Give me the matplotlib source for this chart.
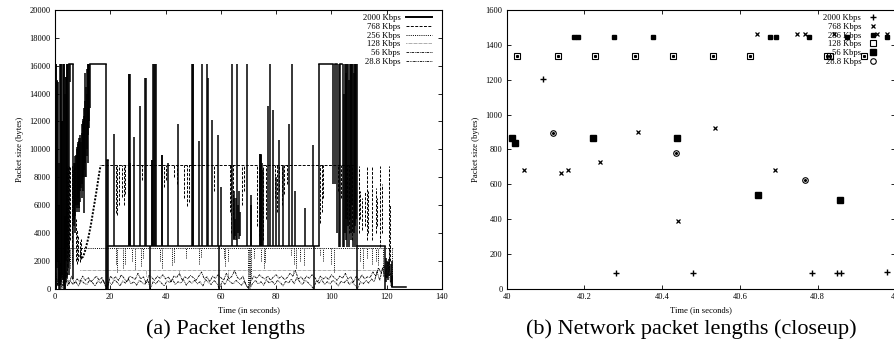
import matplotlib
matplotlib.use("Agg")
import matplotlib.pyplot as plt
from matplotlib.lines import Line2D

plt.rcParams['font.family'] = ['Liberation Serif', 'DejaVu Serif']

# ---------------- panel (a) data ----------------
labels = ["2000 Kbps", "768 Kbps", "256 Kbps", "128 Kbps", "56 Kbps", "28.8 Kbps"]

# flat runs: (start, end, level)
flats_2000 = [(5.0, 6.6, 16100), (12.6, 18.5, 16100), (18.7, 19.2, 9200), (19.3, 95.6, 3050),
              (95.6, 100.7, 16100), (101.4, 102.0, 16100), (103.2, 104.0, 16100),
              (109.4, 119.5, 3050), (122.0, 127.0, 100)]
# vertical excursions: (time, low, high)
strokes_2000 = [
    (0.3, 0, 16100), (0.5, 0, 16100), (0.7, 2000, 15000), (0.9, 1500, 14900), (1.1, 500, 14800),
    (1.3, 200, 9000), (1.5, 0, 6000), (1.7, 0, 1200), (1.9, 300, 16100), (2.1, 500, 16100),
    (2.3, 300, 16100), (2.5, 800, 12000), (2.7, 1000, 12000), (2.9, 600, 16100), (3.1, 200, 16100),
    (3.3, 0, 16100), (3.5, 0, 5200), (3.7, 0, 14000), (3.9, 500, 15200), (4.1, 2000, 15200),
    (4.3, 800, 16100), (4.5, 3000, 16100), (4.7, 1500, 16100), (5.0, 1000, 16100), (5.5, 14800, 16100),
    (6.6, 700, 16100), (6.8, 5000, 8500), (7.0, 4500, 9000), (7.2, 4000, 9000), (7.4, 5200, 9500),
    (7.6, 6000, 9600), (7.8, 5800, 10000), (8.0, 5500, 10200), (8.2, 6000, 10400), (8.4, 6500, 10500),
    (8.6, 5800, 10600), (8.8, 5500, 10800), (9.0, 6200, 11000), (9.2, 7000, 10800), (9.4, 7200, 10500),
    (9.6, 7500, 11200), (9.8, 6500, 11800), (10.0, 8000, 12000), (10.2, 7000, 12200), (10.4, 5400, 12400),
    (10.6, 8500, 13000), (10.8, 9000, 13500), (11.0, 8000, 15500), (11.2, 8000, 14500), (11.4, 9500, 14000),
    (11.6, 10000, 15800), (11.8, 9000, 16100), (12.0, 11000, 16100), (12.2, 11500, 16100), (12.4, 12000, 16100),
    (12.6, 13000, 16100), (18.5, 0, 16100), (18.7, 0, 9200), (19.2, 3050, 9200), (19.3, 0, 3050),
    (21.4, 3050, 11100), (26.7, 3050, 15400), (26.9, 3050, 15400), (27.1, 3050, 15400), (27.3, 3050, 9000),
    (28.7, 3050, 10900), (30.8, 3050, 13100), (32.6, 3050, 15100), (32.8, 3050, 15100), (34.2, 0, 3050),
    (35.0, 3050, 9200), (35.2, 3050, 9200), (35.6, 3050, 16100), (35.8, 3050, 16100), (36.2, 3050, 16100),
    (36.4, 3050, 16100), (38.6, 3050, 9600), (38.8, 3050, 9600), (40.8, 3050, 9000), (44.4, 3050, 11800),
    (49.6, 3050, 16100), (49.8, 3050, 16100), (50.1, 3050, 16100), (52.1, 3050, 10600), (53.1, 3050, 16100),
    (54.9, 3050, 16100), (55.5, 3050, 15100), (56.7, 3050, 12100), (59.1, 3050, 11000), (59.5, 0, 3050),
    (60.0, 3050, 7300), (64.2, 3050, 16100), (64.6, 3500, 7000), (64.9, 3600, 6500), (65.2, 3800, 5000),
    (65.5, 3500, 6500), (65.8, 3050, 16100), (66.2, 4000, 6000), (66.5, 3600, 7000), (66.9, 3800, 5500),
    (69.4, 3050, 16100), (70.8, 3050, 6700), (71.0, 3050, 6000), (74.0, 3050, 9700), (74.2, 3050, 9700),
    (74.4, 3050, 9700), (74.6, 3050, 9600), (74.8, 3050, 9000), (75.1, 3050, 8500), (77.2, 3050, 13100),
    (77.8, 3050, 16100), (79.0, 3050, 12800), (80.0, 3050, 8000), (81.2, 3050, 10700), (82.5, 3050, 8800),
    (84.5, 3050, 11800), (85.7, 3050, 16100), (86.9, 3050, 7000), (90.5, 3050, 5800), (93.5, 3050, 10300),
    (93.6, 0, 3050), (95.6, 3050, 16100), (100.7, 7500, 16100), (101.4, 7500, 16100), (102.0, 4000, 16100),
    (102.6, 3000, 16100), (103.2, 3000, 16100), (104.2, 3000, 16100), (104.5, 3000, 14000), (104.8, 4000, 16100),
    (105.1, 3500, 15500), (105.4, 5000, 16100), (105.7, 3000, 16100), (106.0, 4500, 16100), (106.3, 3000, 15000),
    (106.6, 5000, 16100), (106.9, 4000, 16100), (107.2, 3500, 16100), (107.5, 6000, 16100), (107.8, 3000, 16100),
    (108.1, 4000, 15500), (108.4, 4500, 16100), (108.7, 3000, 16100), (109.0, 5000, 16100), (109.2, 0, 16100),
    (119.5, 0, 3050), (119.8, 500, 2200), (120.2, 800, 2000), (120.6, 600, 1900), (121.0, 900, 2100),
    (121.4, 500, 1800), (121.8, 100, 2000), (122.0, 100, 900)]

flats_768 = [(16.5, 108.5, 8850)]
strokes_768 = [
    (4.4, 1000, 8800), (4.8, 2500, 8800), (5.2, 2000, 8800), (5.6, 3500, 8800), (6.0, 4000, 8800),
    (6.3, 3000, 8800), (6.7, 5000, 8800), (7.1, 6000, 8800), (7.5, 2000, 5000), (8.0, 1800, 4200),
    (8.5, 2000, 3800), (9.0, 1900, 3500), (9.5, 2100, 3600), (22.0, 5400, 8850), (22.5, 5300, 8850),
    (23.2, 6000, 8850), (24.1, 6600, 8850), (25.0, 6000, 8850), (25.4, 6800, 8850), (31.5, 7800, 8850),
    (39.6, 7300, 8850), (40.2, 7800, 8850), (43.0, 8000, 8850), (44.0, 7500, 8850), (46.8, 6500, 8850),
    (47.6, 5900, 8850), (48.4, 6200, 8850), (57.5, 7000, 8850), (63.2, 5500, 8850), (63.8, 4000, 8850),
    (64.4, 5000, 8850), (67.8, 6000, 8850), (68.4, 7000, 8850), (73.2, 4500, 8850), (73.8, 3800, 8850),
    (74.6, 4200, 8850), (75.4, 3500, 8850), (76.2, 5000, 8850), (79.5, 6500, 8850), (80.3, 5500, 8850),
    (81.0, 7000, 8850), (82.0, 6000, 8850), (83.0, 6800, 8850), (84.0, 7500, 8850), (96.0, 4700, 8850),
    (96.5, 5500, 8850), (97.0, 6500, 8850), (102.5, 7000, 8850), (103.5, 6500, 8850), (105.5, 5000, 8850),
    (106.5, 4000, 8850), (107.5, 3500, 8850), (109.8, 4000, 8800), (110.4, 5000, 7000), (111.0, 4200, 6500),
    (112.2, 4500, 7000), (113.0, 3500, 8800), (113.4, 4000, 7000), (114.6, 3500, 8800), (116.0, 4000, 7200),
    (116.5, 4500, 6500), (117.7, 3000, 8800), (118.2, 4000, 7500), (120.7, 1500, 8800), (121.2, 2000, 6000)]
curve_768 = [(9.0, 2400), (9.6, 2200), (10.2, 2300), (11.0, 2800), (12.0, 3600), (13.0, 4600),
             (14.0, 5800), (15.0, 7000), (16.0, 8300), (16.5, 8850)]

flats_256 = [(1.0, 122.3, 2900)]
strokes_256 = [
    (5.5, 1500, 2900), (6.0, 1800, 2900), (9.0, 2000, 2900), (22.0, 1800, 2900), (22.5, 1200, 2900),
    (24.5, 1500, 2900), (25.2, 1800, 2900), (28.0, 2000, 2900), (29.0, 1400, 2900), (31.0, 1600, 2900),
    (32.0, 2200, 2900), (38.0, 2000, 2900), (38.6, 1500, 2900), (42.5, 1700, 2900), (43.2, 1900, 2900),
    (47.5, 2200, 2900), (52.0, 1800, 2900), (52.8, 2300, 2900), (61.0, 2200, 2900), (61.6, 1600, 2900),
    (62.5, 2000, 2900), (69.8, 0, 2900), (70.2, 100, 2900), (70.6, 300, 2900), (71.0, 800, 2900),
    (72.0, 2200, 2900), (74.5, 2000, 2900), (75.5, 1500, 2900), (76.0, 1900, 2900), (85.5, 2400, 2900),
    (86.5, 1800, 2900), (87.2, 1500, 2900), (88.5, 2000, 2900), (90.0, 1700, 2900), (96.0, 2400, 2900),
    (97.0, 2000, 2900), (100.0, 1800, 2900), (101.0, 1200, 2900), (110.5, 2000, 2900), (111.5, 1500, 2900),
    (113.0, 2200, 2900), (114.5, 1800, 2900), (116.0, 2000, 2900), (117.0, 1700, 2900), (118.5, 900, 2900),
    (121.0, 1300, 2900), (121.8, 600, 2900)]

flats_128 = [(9.0, 118.8, 1316)]
strokes_128 = [(33.0, 900, 1316), (45.0, 1000, 1316), (62.5, 800, 1316), (70.5, 200, 1316),
               (86.0, 1000, 1316), (118.8, 1000, 1316)]

pts_56 = [(0, 1500), (1, 200), (2, 1800), (3, 400), (4, 1200), (5, 300), (6, 900), (7, 400), (8, 700), (9, 500),
          (10, 900), (11, 600), (12, 800), (13, 500), (14, 700), (15, 900), (16, 600), (17, 800), (18, 300), (19, 100),
          (20, 900), (21, 700), (22, 850), (23, 600), (24, 1000), (25, 750), (26, 500), (27, 900), (28, 800), (29, 650),
          (30, 1100), (31, 700), (32, 850), (33, 400), (34, 950), (35, 800), (36, 600), (37, 900), (38, 750), (39, 1000),
          (40, 700), (41, 850), (42, 500), (43, 900), (44, 800), (45, 1100), (46, 650), (47, 850), (48, 700), (49, 950),
          (50, 800), (51, 600), (52, 900), (53, 1200), (54, 700), (55, 850), (56, 500), (57, 900), (58, 750), (59, 1000),
          (60, 800), (61, 600), (62, 1100), (63, 700), (64, 900), (65, 1300), (66, 800), (67, 650), (68, 900), (69, 300),
          (70, 100), (71, 600), (72, 900), (73, 750), (74, 1000), (75, 800), (76, 700), (77, 900), (78, 600), (79, 850),
          (80, 1000), (81, 750), (82, 900), (83, 650), (84, 800), (85, 1100), (86, 900), (87, 1300), (88, 700), (89, 850),
          (90, 600), (91, 900), (92, 750), (93, 1000), (94, 800), (95, 500), (96, 900), (97, 700), (98, 850), (99, 650),
          (100, 1000), (101, 800), (102, 600), (103, 900), (104, 750), (105, 1100), (106, 700), (107, 850), (108, 500),
          (109, 900), (110, 600), (111, 1000), (112, 700), (113, 850), (114, 800), (115, 1200), (116, 900), (117, 1500),
          (118, 1100), (119, 1700), (120, 800), (121, 1400), (122, 300)]

pts_288 = [(0.5, 100), (1.5, 900), (2.5, 0), (3.5, 1300), (4.5, 200), (5.5, 600), (6.5, 300), (7.5, 500), (8.5, 200),
           (9.5, 600), (10.5, 400), (11.5, 300), (12.5, 600), (13.5, 450), (14.5, 200), (15.5, 550), (16.5, 400),
           (17.5, 650), (18.5, 0), (19.5, 500), (20.5, 300), (21.5, 650), (22.5, 450), (23.5, 200), (24.5, 550),
           (25.5, 400), (26.5, 700), (27.5, 350), (28.5, 500), (29.5, 250), (30.5, 600), (31.5, 450), (32.5, 300),
           (33.5, 650), (34.5, 0), (35.5, 500), (36.5, 350), (37.5, 600), (38.5, 400), (39.5, 200), (40.5, 550),
           (41.5, 450), (42.5, 700), (43.5, 300), (44.5, 500), (45.5, 400), (46.5, 650), (47.5, 250), (48.5, 550),
           (49.5, 400), (50.5, 600), (51.5, 350), (52.5, 500), (53.5, 200), (54.5, 650), (55.5, 450), (56.5, 300),
           (57.5, 600), (58.5, 400), (59.5, 0), (60.5, 550), (61.5, 300), (62.5, 700), (63.5, 450), (64.5, 350),
           (65.5, 600), (66.5, 400), (67.5, 250), (68.5, 550), (69.5, 100), (70.5, 0), (71.5, 400), (72.5, 600),
           (73.5, 350), (74.5, 500), (75.5, 250), (76.5, 650), (77.5, 400), (78.5, 550), (79.5, 300), (80.5, 600),
           (81.5, 450), (82.5, 200), (83.5, 550), (84.5, 400), (85.5, 700), (86.5, 350), (87.5, 800), (88.5, 500),
           (89.5, 300), (90.5, 600), (91.5, 450), (92.5, 250), (93.5, 0), (94.5, 550), (95.5, 400), (96.5, 650),
           (97.5, 300), (98.5, 500), (99.5, 350), (100.5, 600), (101.5, 450), (102.5, 200), (103.5, 550),
           (104.5, 400), (105.5, 650), (106.5, 300), (107.5, 500), (108.5, 250), (109.5, 0), (110.5, 500),
           (111.5, 350), (112.5, 600), (113.5, 400), (114.5, 700), (115.5, 500), (116.5, 1200), (117.5, 600),
           (118.5, 1500), (119.5, 800), (120.5, 1900), (121.5, 200)]

xticks_a = [0, 20, 40, 60, 80, 100, 120, 140]
yticks_a = [0, 2000, 4000, 6000, 8000, 10000, 12000, 14000, 16000, 18000, 20000]

# ---------------- panel (b) data ----------------
b2000_t = [40.094, 40.281, 40.480, 40.786, 40.851, 40.861, 40.980]
b2000_v = [1202, 92, 92, 92, 92, 92, 96]
b768_t = [40.045, 40.140, 40.157, 40.240, 40.337, 40.440, 40.537, 40.645, 40.691, 40.747, 40.769,
          40.842, 40.954, 40.978]
b768_v = [681, 664, 681, 725, 901, 390, 924, 1462, 681, 1462, 1462, 1462, 1462, 1462]
b256_t = [40.174, 40.184, 40.275, 40.376, 40.678, 40.693, 40.777, 40.877, 40.979]
b256_v = [1445, 1445, 1445, 1445, 1445, 1445, 1445, 1445, 1445]
b128_t = [40.026, 40.131, 40.226, 40.331, 40.427, 40.530, 40.625, 40.824, 40.831, 40.920]
b128_v = [1336, 1336, 1336, 1336, 1336, 1336, 1336, 1336, 1336, 1336]
b56_t = [40.013, 40.021, 40.221, 40.438, 40.646, 40.858]
b56_v = [867, 838, 867, 867, 540, 511]
b288_t = [40.119, 40.437, 40.768]
b288_v = [896, 781, 624]

xticks_b = [40, 40.2, 40.4, 40.6, 40.8, 41]
xticklabels_b = ["40", "40.2", "40.4", "40.6", "40.8", "41"]
yticks_b = [0, 200, 400, 600, 800, 1000, 1200, 1400, 1600]

# ---------------- drawing ----------------
W, H = 894, 349
fig = plt.figure(figsize=(W / 100, H / 100), dpi=100)

axa = fig.add_axes([55 / W, 1 - 288.7 / H, 387 / W, 278.7 / H])
axb = fig.add_axes([506.7 / W, 1 - 288.7 / H, 388.5 / W, 278.7 / H])

styles = {
    "2000": dict(color='k', lw=1.1, ls='-'),
    "768": dict(color='k', lw=0.7, ls=(0, (3, 1.5))),
    "256": dict(color='k', lw=0.7, ls=(0, (1, 1.2))),
    "128": dict(color='#444444', lw=0.6, ls=(0, (0.6, 0.9))),
    "56": dict(color='k', lw=0.6, ls=(0, (3, 1, 1, 1))),
    "288": dict(color='k', lw=0.6, ls=(0, (3, 1, 1, 1, 1, 1))),
}


def draw_flats_strokes(ax, flats, strokes, st):
    for s, e, lev in flats:
        ax.plot([s, e], [lev, lev], **st)
    ts = [p[0] for p in strokes]
    lo = [p[1] for p in strokes]
    hi = [p[2] for p in strokes]
    ax.vlines(ts, lo, hi, colors=st['color'], linewidth=st['lw'], linestyles=st['ls'])


draw_flats_strokes(axa, flats_128, strokes_128, styles["128"])
axa.plot([p[0] for p in pts_288], [p[1] for p in pts_288], **styles["288"])
axa.plot([p[0] for p in pts_56], [p[1] for p in pts_56], **styles["56"])
draw_flats_strokes(axa, flats_256, strokes_256, styles["256"])
draw_flats_strokes(axa, flats_768, strokes_768, styles["768"])
axa.plot([p[0] for p in curve_768], [p[1] for p in curve_768], color='k', lw=1.4, ls=(0, (1, 0.8)))
draw_flats_strokes(axa, flats_2000, strokes_2000, styles["2000"])

axa.set_xlim(0, 140)
axa.set_ylim(0, 20000)
axa.set_xticks(xticks_a)
axa.set_yticks(yticks_a)

handles_a = [Line2D([], [], **styles[k]) for k in ["2000", "768", "256", "128", "56", "288"]]
handles_a[0].set_linewidth(1.4)
leg_a = axa.legend(handles_a, labels, loc='upper right', bbox_to_anchor=(0.975, 0.985),
                   frameon=False, fontsize=6.2, markerfirst=False, handlelength=3.0,
                   handletextpad=0.7, labelspacing=0.08, borderpad=0, borderaxespad=0)

# panel (b)
axb.plot(b2000_t, b2000_v, ls='none', marker='+', ms=4, mew=1.0, color='k')
axb.plot(b768_t, b768_v, ls='none', marker='x', ms=3.5, mew=0.9, color='k')
axb.plot(b256_t, b256_v, ls='none', marker='s', ms=3.2, color='k')
axb.plot(b128_t, b128_v, ls='none', marker='s', ms=3.8, mfc='none', mec='k', mew=0.8)
axb.plot(b128_t, b128_v, ls='none', marker='s', ms=1.2, color='k')
axb.plot(b56_t, b56_v, ls='none', marker='s', ms=4.2, color='k')
axb.plot(b288_t, b288_v, ls='none', marker='o', ms=4.0, mfc='none', mec='k', mew=0.8)
axb.plot(b288_t, b288_v, ls='none', marker='o', ms=1.2, color='k')

axb.set_xlim(40, 41)
axb.set_ylim(0, 1600)
axb.set_xticks(xticks_b)
axb.set_xticklabels(xticklabels_b)
axb.set_yticks(yticks_b)

hb = [Line2D([], [], ls='none', marker='+', ms=4, mew=1.0, color='k'),
      Line2D([], [], ls='none', marker='x', ms=3.5, mew=0.9, color='k'),
      Line2D([], [], ls='none', marker='s', ms=3.2, color='k'),
      Line2D([], [], ls='none', marker='s', ms=3.8, mfc='none', mec='k', mew=0.8),
      Line2D([], [], ls='none', marker='s', ms=4.2, color='k'),
      Line2D([], [], ls='none', marker='o', ms=4.0, mfc='none', mec='k', mew=0.8)]
leg_b = axb.legend(hb, labels, loc='upper right', bbox_to_anchor=(0.955, 0.985),
                   frameon=False, fontsize=6.2, markerfirst=False, handlelength=1.0,
                   handletextpad=0.9, labelspacing=0.08, borderpad=0, borderaxespad=0)

for ax in (axa, axb):
    ax.tick_params(direction='in', length=3, width=0.6, top=True, right=True,
                   labelsize=6, pad=3)
    for sp in ax.spines.values():
        sp.set_linewidth(0.8)
    ax.set_xlabel("Time (in seconds)", fontsize=6.2, labelpad=4)
    ax.set_ylabel("Packet size (bytes)", fontsize=6.2, labelpad=4)

fig.text(226 / W, 1 - 329 / H, "(a) Packet lengths", ha='center', va='center', fontsize=16)
fig.text(691 / W, 1 - 329 / H, "(b) Network packet lengths (closeup)", ha='center', va='center', fontsize=16)

fig.savefig("out.png", dpi=100)
